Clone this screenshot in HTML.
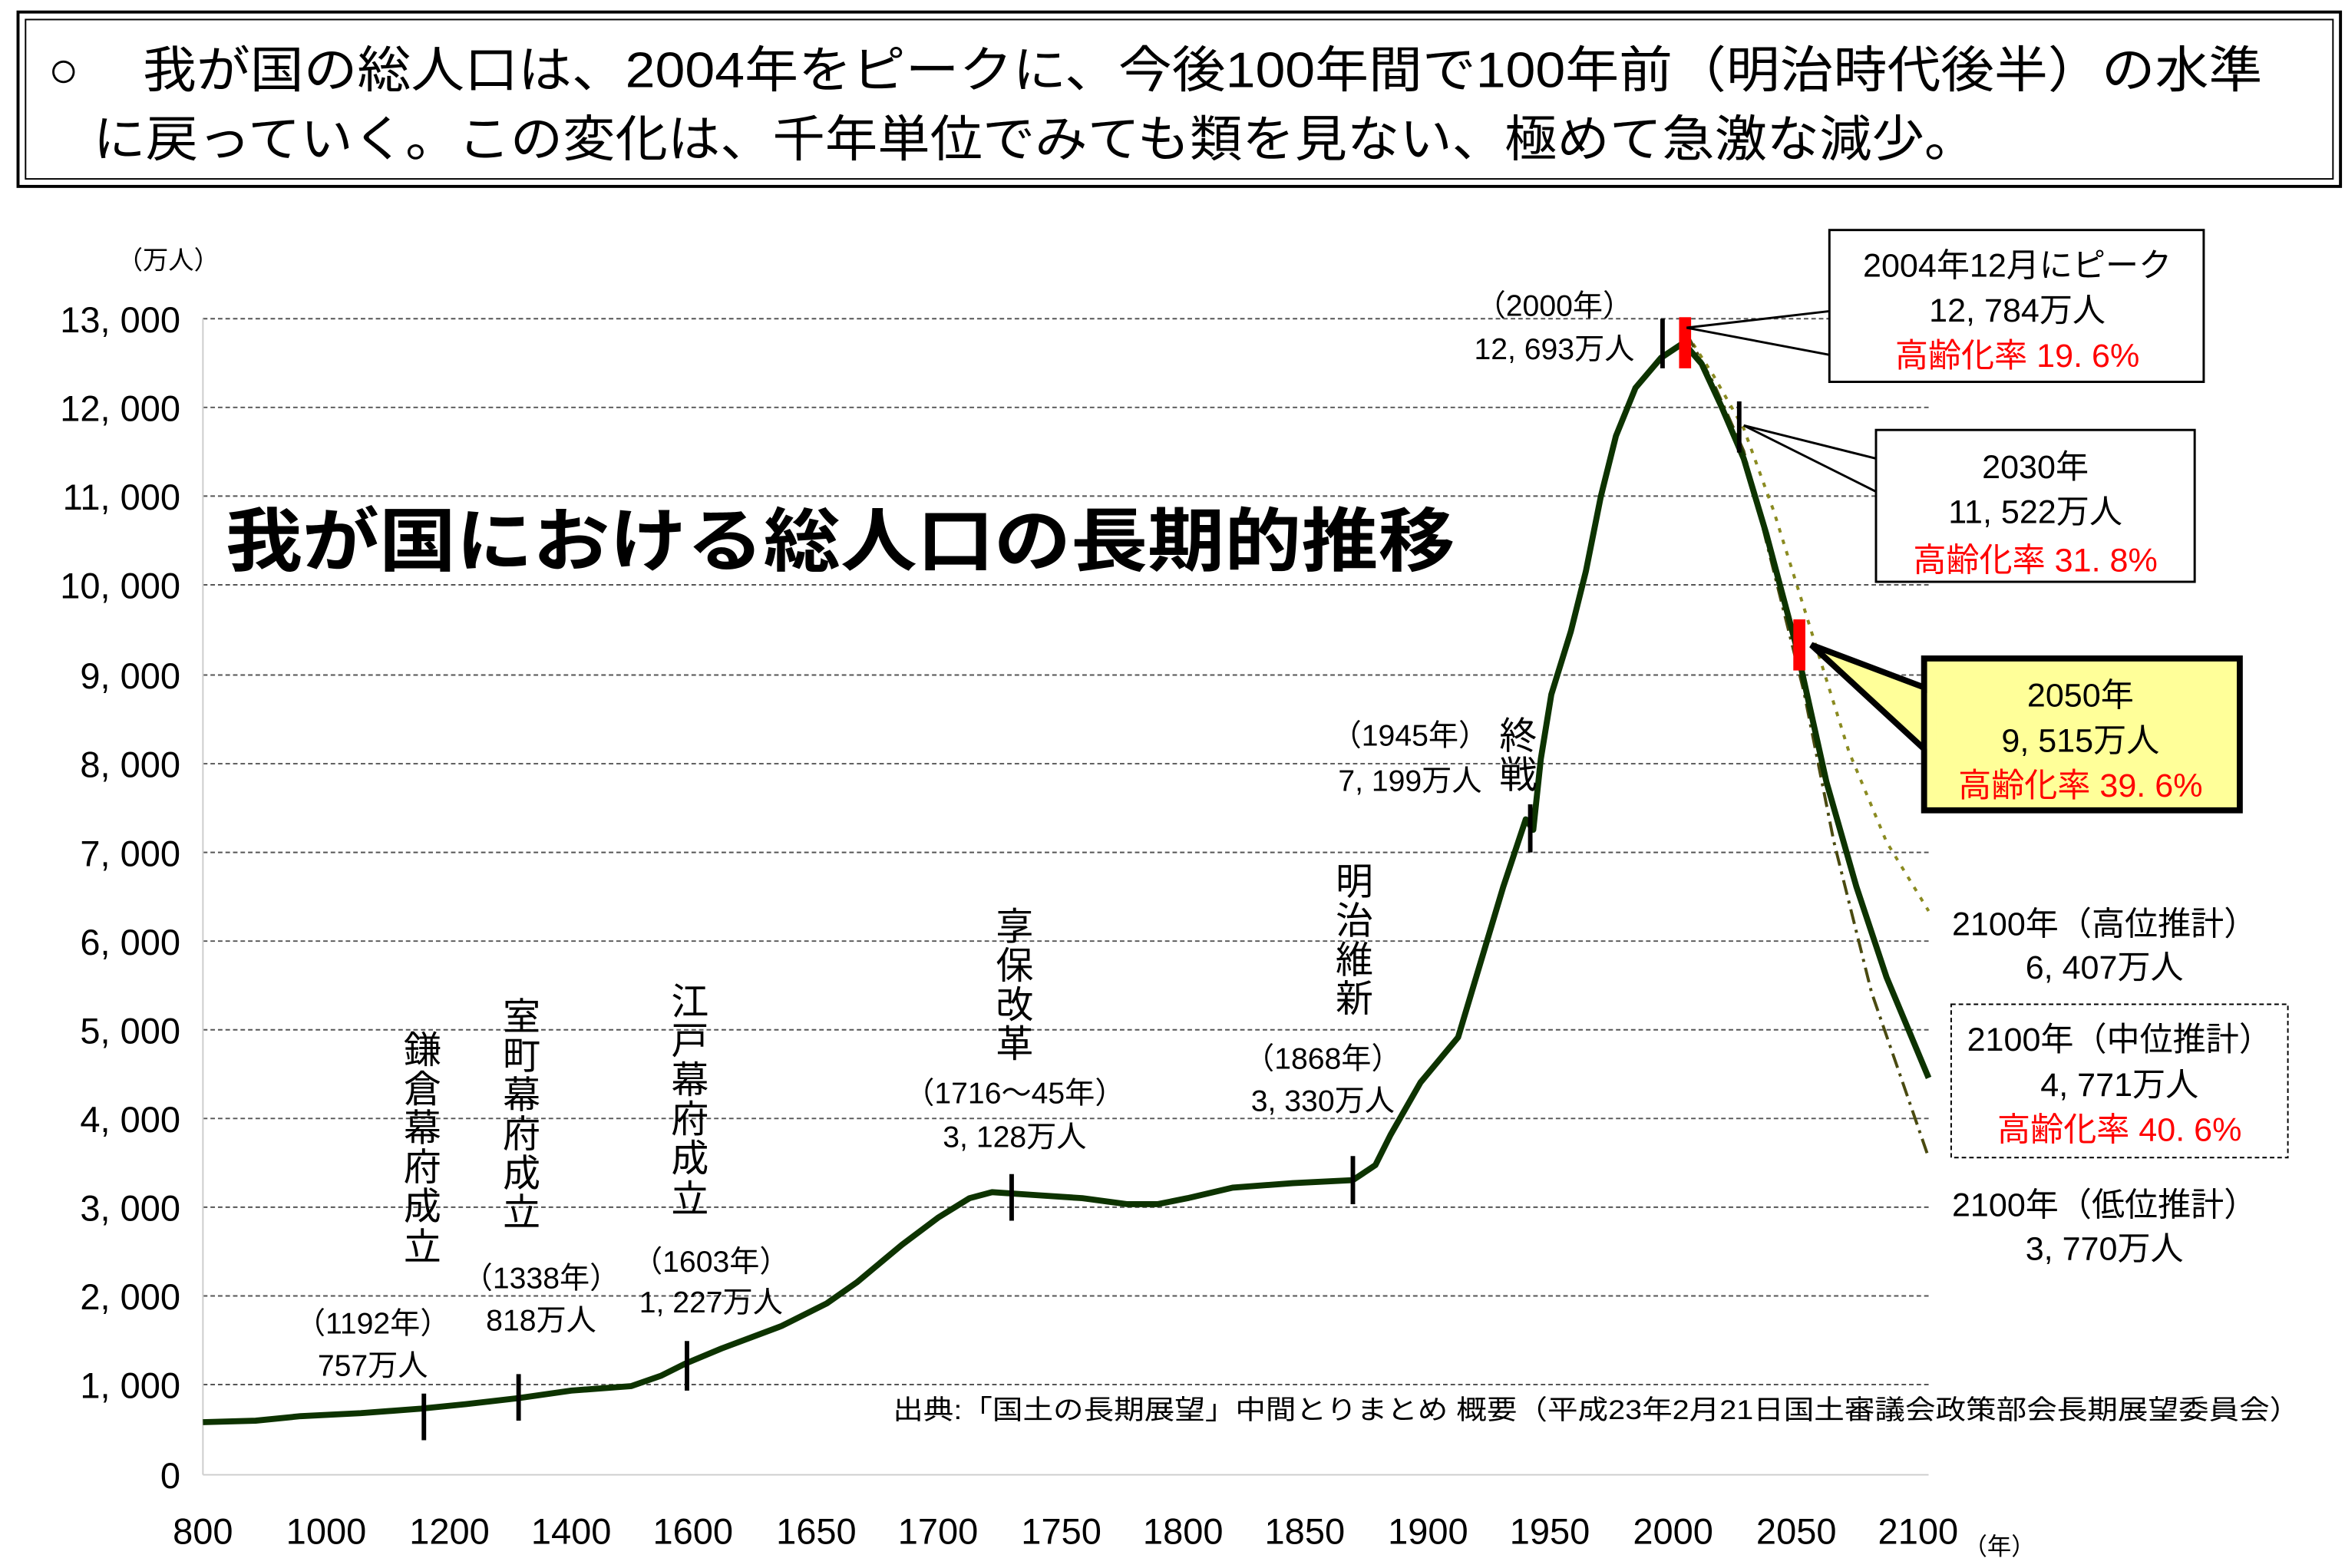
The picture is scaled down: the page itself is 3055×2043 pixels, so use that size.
<!DOCTYPE html>
<html><head><meta charset="utf-8"><style>
html,body{margin:0;padding:0;background:#fff;}
svg{display:block;}
text{font-family:"Liberation Sans Narrow","Liberation Sans","Noto Sans CJK JP",sans-serif;fill:#000;}
.j{font-family:"Liberation Sans Narrow","Liberation Sans","Noto Sans CJK JP",sans-serif;}
</style></head><body>
<svg width="3055" height="2043" viewBox="0 0 1560 1043" preserveAspectRatio="none" xmlns="http://www.w3.org/2000/svg">
<rect x="0" y="0" width="1560" height="1043" fill="#fff"/>
<!-- header -->
<rect x="12" y="8" width="1545" height="116" fill="#fff" stroke="#000" stroke-width="2"/>
<rect x="17" y="13" width="1535" height="106" fill="none" stroke="#000" stroke-width="1"/>
<text x="32" y="58" font-size="34">○</text>
<text x="95" y="58" font-size="33" textLength="1410" lengthAdjust="spacingAndGlyphs">我が国の総人口は、2004年をピークに、今後100年間で100年前（明治時代後半）の水準</text>
<text x="62" y="104" font-size="33" textLength="1253" lengthAdjust="spacingAndGlyphs">に戻っていく。この変化は、千年単位でみても類を見ない、極めて急激な減少。</text>
<!-- grid -->
<g stroke="#555" stroke-width="1" stroke-dasharray="3,2">
<line x1="135" y1="212" x2="1283" y2="212"/><line x1="135" y1="271" x2="1283" y2="271"/>
<line x1="135" y1="330" x2="1283" y2="330"/><line x1="135" y1="389" x2="1283" y2="389"/>
<line x1="135" y1="449" x2="1283" y2="449"/><line x1="135" y1="508" x2="1283" y2="508"/>
<line x1="135" y1="567" x2="1283" y2="567"/><line x1="135" y1="626" x2="1283" y2="626"/>
<line x1="135" y1="685" x2="1283" y2="685"/><line x1="135" y1="744" x2="1283" y2="744"/>
<line x1="135" y1="803" x2="1283" y2="803"/><line x1="135" y1="862" x2="1283" y2="862"/>
<line x1="135" y1="921" x2="1283" y2="921"/>
</g>
<line x1="135" y1="212" x2="135" y2="981" stroke="#ccc"/>
<line x1="135" y1="981" x2="1283" y2="981" stroke="#ccc"/>
<!-- y labels -->
<g font-size="24" text-anchor="end">
<text x="120" y="221">13, 000</text><text x="120" y="280">12, 000</text><text x="120" y="339">11, 000</text>
<text x="120" y="398">10, 000</text><text x="120" y="458">9, 000</text><text x="120" y="517">8, 000</text>
<text x="120" y="576">7, 000</text><text x="120" y="635">6, 000</text><text x="120" y="694">5, 000</text>
<text x="120" y="753">4, 000</text><text x="120" y="812">3, 000</text><text x="120" y="871">2, 000</text>
<text x="120" y="930">1, 000</text><text x="120" y="990">0</text>
</g>
<text x="78" y="179" font-size="17">（万人）</text>
<!-- x labels -->
<g font-size="24" text-anchor="middle">
<text x="135" y="1027">800</text><text x="217" y="1027">1000</text><text x="299" y="1027">1200</text>
<text x="380" y="1027">1400</text><text x="461" y="1027">1600</text><text x="543" y="1027">1650</text>
<text x="624" y="1027">1700</text><text x="706" y="1027">1750</text><text x="787" y="1027">1800</text>
<text x="868" y="1027">1850</text><text x="950" y="1027">1900</text><text x="1031" y="1027">1950</text>
<text x="1113" y="1027">2000</text><text x="1195" y="1027">2050</text><text x="1276" y="1027">2100</text>
</g>
<text x="1306" y="1034" font-size="16">（年）</text>
<!-- projections -->
<polyline points="1122,222 1140,250 1160,285 1180,340 1205,420 1230,500 1255,560 1283,606" fill="none" stroke="#8a8a20" stroke-width="2" stroke-dasharray="3,5"/>
<polyline points="1122,222 1140,255 1160,300 1180,380 1200,460 1220,560 1245,660 1283,770" fill="none" stroke="#4a4a10" stroke-width="2" stroke-dasharray="10,4,2,4"/>
<!-- main curve -->
<polyline points="135,946 170,945 200,942 240,940 280,937 310,934 345,930 380,925 420,922 440,915 456,907 480,897 520,882 550,867 570,853 600,828 624,810 645,797 660,793 690,795 720,797 750,801 770,801 790,797 820,790 860,787 900,785 915,775 925,755 945,720 970,690 985,640 1000,590 1010,560 1015,545 1020,552 1025,505 1032,462 1045,420 1055,380 1065,330 1075,290 1088,258 1105,238 1120,228 1132,242 1145,270 1160,305 1175,355 1195,430 1215,520 1235,590 1255,650 1283,717" fill="none" stroke="#0d3300" stroke-width="4" stroke-linejoin="round"/>
<!-- markers -->
<g stroke="#000" stroke-width="3">
<line x1="282" y1="927" x2="282" y2="958"/><line x1="345" y1="914" x2="345" y2="945"/>
<line x1="457" y1="892" x2="457" y2="925"/><line x1="673" y1="781" x2="673" y2="812"/>
<line x1="900" y1="769" x2="900" y2="801"/><line x1="1018" y1="535" x2="1018" y2="567"/>
<line x1="1106" y1="212" x2="1106" y2="245"/><line x1="1157" y1="267" x2="1157" y2="301"/>
</g>
<rect x="1117" y="211" width="8" height="34" fill="#f00"/>
<rect x="1193" y="412" width="8" height="34" fill="#f00"/>
<!-- vertical labels -->
<g font-size="25" text-anchor="middle" class="j">
<text x="281" y="707">鎌</text><text x="281" y="733">倉</text><text x="281" y="759">幕</text><text x="281" y="785">府</text><text x="281" y="811">成</text><text x="281" y="838">立</text>
<text x="347" y="685">室</text><text x="347" y="711">町</text><text x="347" y="737">幕</text><text x="347" y="763">府</text><text x="347" y="789">成</text><text x="347" y="815">立</text>
<text x="459" y="675">江</text><text x="459" y="701">戸</text><text x="459" y="727">幕</text><text x="459" y="753">府</text><text x="459" y="779">成</text><text x="459" y="806">立</text>
<text x="675" y="625">享</text><text x="675" y="651">保</text><text x="675" y="677">改</text><text x="675" y="703">革</text>
<text x="901" y="595">明</text><text x="901" y="621">治</text><text x="901" y="647">維</text><text x="901" y="673">新</text>
<text x="1010" y="498">終</text><text x="1010" y="524">戦</text>
</g>
<!-- annotations -->
<g font-size="20" text-anchor="middle">
<text x="248" y="887">（1192年）</text><text x="248" y="915">757万人</text>
<text x="360" y="857">（1338年）</text><text x="360" y="885">818万人</text>
<text x="473" y="846">（1603年）</text><text x="473" y="873">1, 227万人</text>
<text x="675" y="734">（1716～45年）</text><text x="675" y="763">3, 128万人</text>
<text x="880" y="711">（1868年）</text><text x="880" y="739">3, 330万人</text>
<text x="938" y="496">（1945年）</text><text x="938" y="526">7, 199万人</text>
<text x="1034" y="210">（2000年）</text><text x="1034" y="239">12, 693万人</text>
</g>
<text x="150" y="376" font-size="46" font-weight="bold" class="j" textLength="818" lengthAdjust="spacingAndGlyphs">我が国における総人口の長期的推移</text>
<text x="594" y="944" font-size="18" textLength="936" lengthAdjust="spacingAndGlyphs">出典:「国土の長期展望」中間とりまとめ 概要（平成23年2月21日国土審議会政策部会長期展望委員会）</text>
<!-- callouts -->
<polyline points="1122,218 1217,207" stroke="#000" stroke-width="1.5" fill="none"/>
<polyline points="1122,218 1217,236" stroke="#000" stroke-width="1.5" fill="none"/>
<rect x="1217" y="153" width="249" height="101" fill="#fff" stroke="#000" stroke-width="1.5"/>
<g font-size="22" text-anchor="middle">
<text x="1342" y="184">2004年12月にピーク</text><text x="1342" y="214">12, 784万人</text><text x="1342" y="244" style="fill:#f00">高齢化率 19. 6%</text>
</g>
<polyline points="1160,283 1248,305" stroke="#000" stroke-width="1.5" fill="none"/>
<polyline points="1160,283 1248,327" stroke="#000" stroke-width="1.5" fill="none"/>
<rect x="1248" y="286" width="212" height="101" fill="#fff" stroke="#000" stroke-width="1.5"/>
<g font-size="22" text-anchor="middle">
<text x="1354" y="318">2030年</text><text x="1354" y="348">11, 522万人</text><text x="1354" y="380" style="fill:#f00">高齢化率 31. 8%</text>
</g>
<polygon points="1205,429 1282,458 1282,500" fill="#ffff99" stroke="#000" stroke-width="4" stroke-linejoin="miter"/>
<rect x="1280" y="438" width="210" height="101" fill="#ffff99" stroke="#000" stroke-width="4"/>
<rect x="1282" y="461" width="6" height="37" fill="#ffff99"/>
<g font-size="22" text-anchor="middle">
<text x="1384" y="470">2050年</text><text x="1384" y="500">9, 515万人</text><text x="1384" y="530" style="fill:#f00">高齢化率 39. 6%</text>
</g>
<g font-size="22" text-anchor="middle">
<text x="1400" y="622">2100年（高位推計）</text><text x="1400" y="651">6, 407万人</text>
</g>
<rect x="1298" y="668" width="224" height="102" fill="#fff" stroke="#000" stroke-width="1" stroke-dasharray="3,2"/>
<g font-size="22" text-anchor="middle">
<text x="1410" y="699">2100年（中位推計）</text><text x="1410" y="729">4, 771万人</text><text x="1410" y="759" style="fill:#f00">高齢化率 40. 6%</text>
<text x="1400" y="809">2100年（低位推計）</text><text x="1400" y="838">3, 770万人</text>
</g>
</svg>
</body></html>
